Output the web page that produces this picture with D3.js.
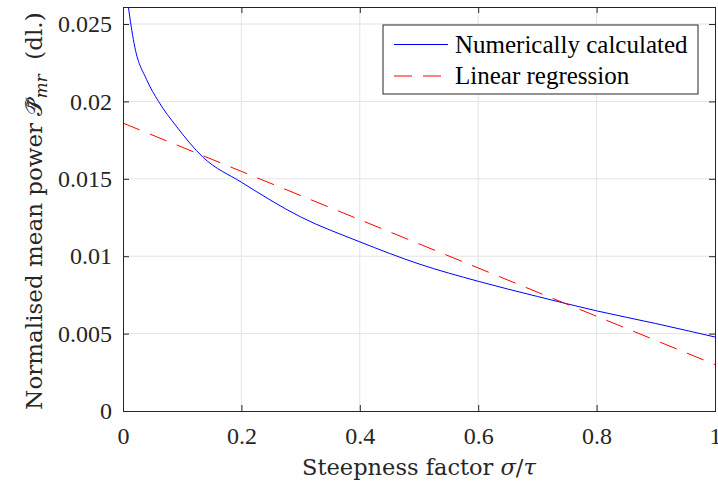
<!DOCTYPE html>
<html>
<head>
<meta charset="utf-8">
<script src="https://cdn.jsdelivr.net/npm/d3@7"></script>
<style>
  body { margin: 0; background: #fff; }
</style>
</head>
<body>
<svg id="chart" width="718" height="488"></svg>
<script>
// steepness factor sigma/tau and numerically calculated mean power
const sigmaTau = [0, 0.02, 0.04, 0.06, 0.09, 0.135, 0.2, 0.3, 0.4, 0.5, 0.6, 0.7, 0.8, 0.9, 1.0];
const meanPower = [0.0288, 0.0235, 0.0214, 0.0200, 0.0184, 0.0164, 0.01478, 0.01254, 0.01093, 0.00950, 0.00838, 0.00740, 0.00647, 0.00565, 0.00478];

// linear regression end points
const regX = [0, 1];
const regY = [0.0186, 0.0030];

const xTicks = [0, 0.2, 0.4, 0.6, 0.8, 1];
const yTicks = [0, 0.005, 0.01, 0.015, 0.02, 0.025];
const legendLabels = ["Numerically calculated", "Linear regression"];

const FONT = "'Liberation Serif', Tinos, 'Times New Roman'";
const LABEL_FONT = "'DejaVu Serif', 'Liberation Serif'";   // wider, closer to the LaTeX labels

let margin = {top: 7, right: 3, bottom: 77, left: 123},
    width = 718 - margin.left - margin.right,
    height = 488 - margin.top - margin.bottom;

let svg = d3.select("#chart");
let g = svg.append("g")
    .attr("transform", "translate(" + margin.left + "," + margin.top + ")");

let xScale = d3.scaleLinear().domain([0, 1]).range([0, width]);
let yScale = d3.scaleLinear().domain([0, 0.0261]).range([height, 0]);

// grid
g.append("g").selectAll("line")
    .data(xTicks.slice(1, -1))
    .enter().append("line")
    .attr("x1", d => xScale(d)).attr("x2", d => xScale(d))
    .attr("y1", 0).attr("y2", height)
    .attr("stroke", "#e3e3e3").attr("stroke-width", 1);

g.append("g").selectAll("line")
    .data(yTicks.slice(1))
    .enter().append("line")
    .attr("x1", 0).attr("x2", width)
    .attr("y1", d => yScale(d)).attr("y2", d => yScale(d))
    .attr("stroke", "#e3e3e3").attr("stroke-width", 1);

g.append("defs").append("clipPath").attr("id", "clip")
    .append("rect").attr("width", width).attr("height", height);

// lines
let line = d3.line()
    .x(d => xScale(d[0]))
    .y(d => yScale(d[1]))
    .curve(d3.curveMonotoneX);

g.append("path")
    .datum(sigmaTau.map((x, i) => [x, meanPower[i]]))
    .attr("clip-path", "url(#clip)")
    .attr("d", line)
    .attr("fill", "none")
    .attr("stroke", "#0000ff")
    .attr("stroke-width", 1);

g.append("path")
    .datum(regX.map((x, i) => [x, regY[i]]))
    .attr("d", d3.line().x(d => xScale(d[0])).y(d => yScale(d[1])))
    .attr("fill", "none")
    .attr("stroke", "#ff0000")
    .attr("stroke-width", 1)
    .attr("stroke-dasharray", "18,11");

// axes (ticks inside, box on)
let tickLen = 6;
let xAxis = d3.axisBottom(xScale).tickValues(xTicks).tickSize(-tickLen).tickPadding(16)
    .tickFormat(d => d3.format("")(d));
let yAxis = d3.axisLeft(yScale).tickValues(yTicks).tickSize(-tickLen).tickPadding(11)
    .tickFormat(d => d3.format("")(d));

g.append("g").attr("transform", "translate(0," + height + ")").call(xAxis);
g.append("g").call(yAxis);
g.append("g").call(d3.axisTop(xScale).tickValues(xTicks).tickSize(-tickLen).tickFormat(""));
g.append("g").attr("transform", "translate(" + width + ",0)")
    .call(d3.axisRight(yScale).tickValues(yTicks).tickSize(-tickLen).tickFormat(""));

g.selectAll(".domain").attr("stroke", "#262626");
g.selectAll(".tick line").attr("stroke", "#262626");
g.selectAll(".tick text")
    .attr("fill", "#262626")
    .style("font-family", FONT)
    .style("font-size", "24px");

// axis labels
svg.append("text")
    .attr("x", margin.left + width / 2)
    .attr("y", 475)
    .attr("text-anchor", "middle")
    .attr("fill", "#262626")
    .style("font-family", LABEL_FONT)
    .style("font-size", "22.5px")
    .html("Steepness factor <tspan font-style='italic'>σ</tspan>/<tspan font-style='italic'>τ</tspan>");

svg.append("text")
    .attr("transform", "translate(42," + (margin.top + height / 2 + 2) + ") rotate(-90)")
    .attr("text-anchor", "middle")
    .attr("fill", "#262626")
    .style("font-family", LABEL_FONT)
    .style("font-size", "23px")
    .html("Normalised mean power <tspan>𝒫\u0304\u0303</tspan><tspan font-style='italic' font-size='17px' dy='5'>mr</tspan><tspan dy='-5'> \u00a0(dl.)</tspan>");

// legend
let legend = svg.append("g").attr("transform", "translate(383,25)");
legend.append("rect")
    .attr("width", 315).attr("height", 69)
    .attr("fill", "#fff").attr("stroke", "#262626").attr("stroke-width", 1);

let legendStyles = [
    {color: "#0000ff", dash: null},
    {color: "#ff0000", dash: "18,11"}
];
legendLabels.forEach(function (label, i) {
    let cy = 19.5 + i * 31.5;
    legend.append("line")
        .attr("x1", 11).attr("x2", 65)
        .attr("y1", cy).attr("y2", cy)
        .attr("stroke", legendStyles[i].color)
        .attr("stroke-dasharray", legendStyles[i].dash);
    legend.append("text")
        .attr("x", 72).attr("y", cy + 8)
        .attr("fill", "#000")
        .style("font-family", FONT)
        .style("font-size", "25px")
        .text(label);
});
</script>
</body>
</html>
